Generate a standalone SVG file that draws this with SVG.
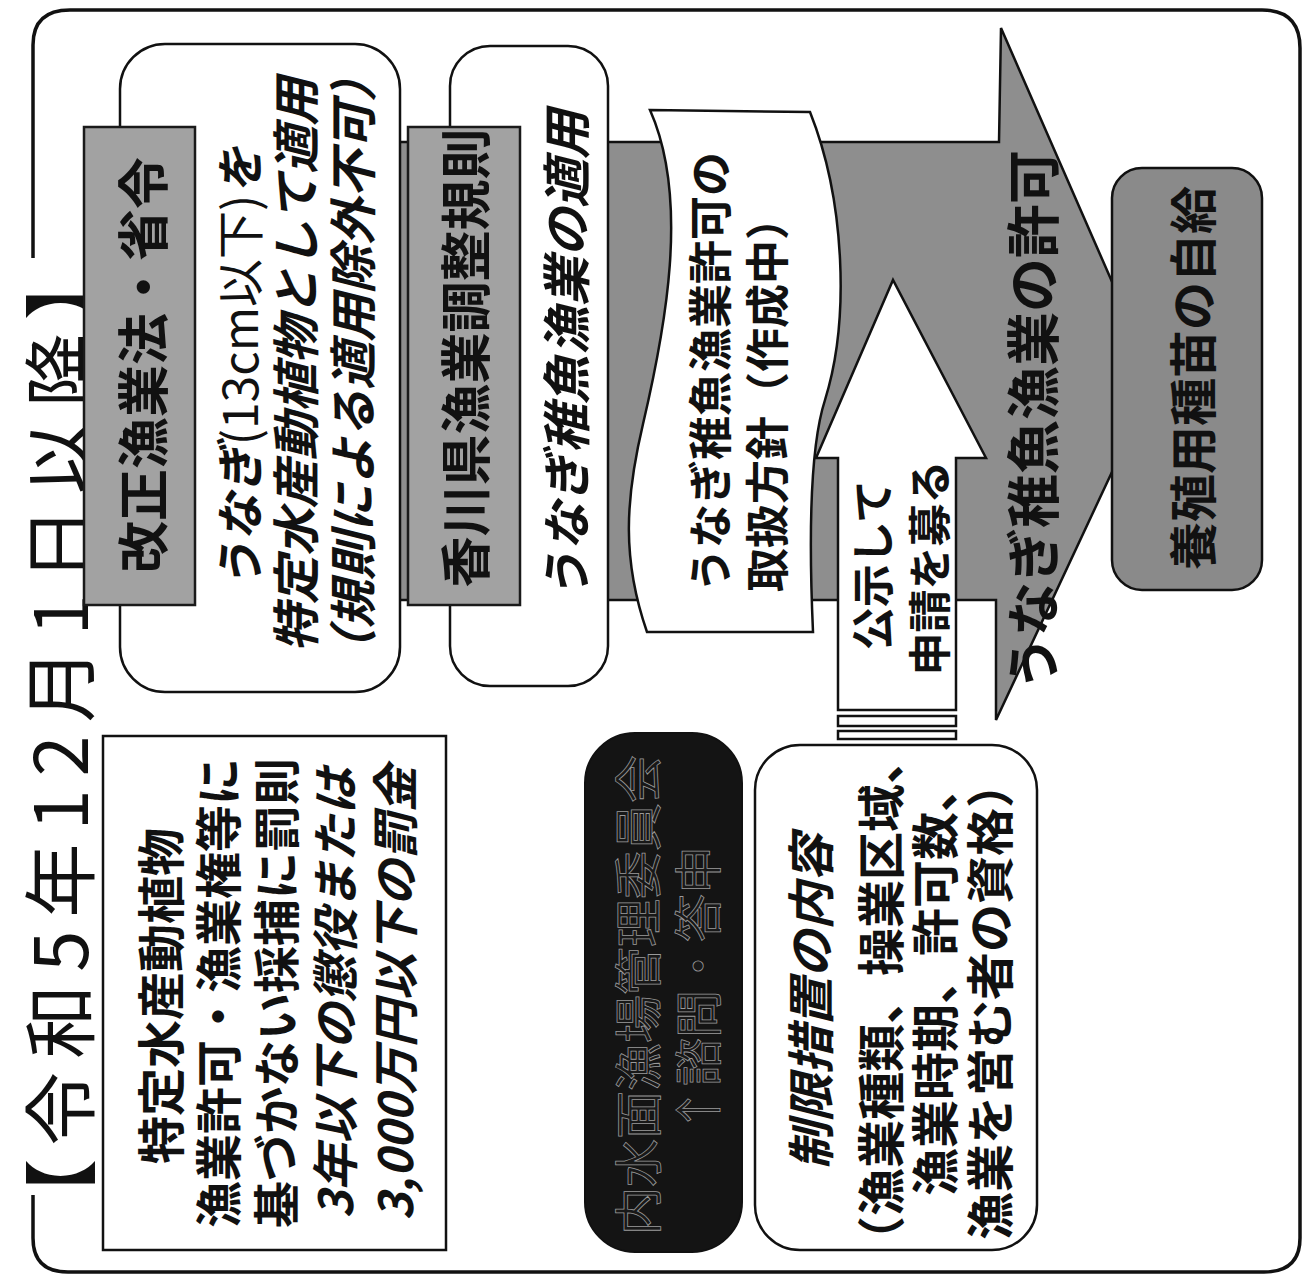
<svg xmlns="http://www.w3.org/2000/svg" width="1306" height="1280" viewBox="0 0 1306 1280">
<style>
text{font-family:'Noto Sans CJK JP','Noto Sans CJK SC',sans-serif;dominant-baseline:central;text-anchor:middle;fill:#111}
.b{font-weight:bold}
.i{font-style:italic}
.ln{stroke:#111;stroke-width:2.5;fill:#fff}
.gray{fill:#a2a2a2;stroke:#1a1a1a;stroke-width:2.5}
.outl{fill:#181818;stroke:#9a9a9a;stroke-width:0.8}
</style>
<rect width="1306" height="1280" fill="#fff"/>
<g id="frame">
<path d="M33,258 V45 Q33,10 70,10 H1262 Q1300,10 1300,48 V1238 Q1300,1272 1264,1272 H68 Q33,1272 33,1238 V1195" fill="none" stroke="#111" stroke-width="3.5"/>
<text x="55" y="733" font-size="74" letter-spacing="13" transform="rotate(-90 55 733)">【令和5年12月1日以降】</text>
</g>
<g id="connectors">
<path id="big-arrow" d="M300,142 H999 L1001,28 L1155,380 L996,720 V600 H300 Z" fill="#8e8e8e" stroke="#111" stroke-width="2.5"/>
</g>
<g id="node-law">
<rect class="ln" x="120" y="44" width="280" height="648" rx="45"/>
<rect class="gray" x="84" y="127" width="111" height="478"/>
<text class="b" x="140" y="365" font-size="52" transform="rotate(-90 140 365)">改正漁業法・省令</text>
<text class="b i" x="237" y="368" font-size="48" transform="rotate(-90 237 368)">うなぎ<tspan font-weight="normal" font-style="normal">(13cm以下)</tspan>を</text>
<text class="b i" x="293" y="365" font-size="48" transform="rotate(-90 293 365)">特定水産動植物として適用</text>
<text class="b i" x="350" y="365" font-size="48" transform="rotate(-90 350 365)">（規則による適用除外不可）</text>
</g>
<g id="node-rule">
<rect class="ln" x="450" y="46" width="158" height="640" rx="40"/>
<rect class="gray" x="408" y="127" width="112" height="478"/>
<text class="b" x="463" y="358" font-size="51" transform="rotate(-90 463 358)">香川県漁業調整規則</text>
<text class="b i" x="563" y="355" font-size="49" transform="rotate(-90 563 355)">うなぎ稚魚漁業の適用</text>
</g>
<g id="node-policy">
<path class="ln" d="M650,110 L810,112 C845,200 850,320 825,400 C812,440 808,520 813,632 L647,632 C622,560 625,500 643,424 C665,330 690,200 650,110 Z"/>
<text class="b" x="708" y="372" font-size="44" transform="rotate(-90 708 372)">うなぎ稚魚漁業許可の</text>
<text class="b" x="765" y="592" font-size="44" style="text-anchor:start" transform="rotate(-90 765 592)">取扱方針（作成中）</text>
</g>
<g id="node-notice">
<path class="ln" d="M838,710 V458 H816 L893,280 L986,458 H956 V710 Z"/>
<rect class="ln" x="838" y="716" width="118" height="10" stroke-width="2"/>
<rect class="ln" x="838" y="731" width="118" height="8" stroke-width="2"/>
<text class="b" x="870" y="565" font-size="43" transform="rotate(-90 870 565)">公示して</text>
<text class="b" x="927" y="568" font-size="43" transform="rotate(-90 927 568)">申請を募る</text>
</g>
<g id="node-permit">
<text class="b" x="1030" y="420" font-size="54" transform="rotate(-90 1030 420)">うなぎ稚魚漁業の許可</text>
</g>
<g id="node-supply">
<rect x="1112" y="168" width="150" height="422" rx="30" fill="#8a8a8a" stroke="#111" stroke-width="2.5"/>
<text class="b" x="1190" y="378" font-size="48" transform="rotate(-90 1190 378)">養殖用種苗の自給</text>
</g>
<g id="node-penalty">
<rect x="103" y="736" width="343" height="514" fill="#fff" stroke="#111" stroke-width="2.5"/>
<text class="b" x="158" y="996" font-size="48" transform="rotate(-90 158 996)">特定水産動植物</text>
<text class="b" x="215" y="993" font-size="47" transform="rotate(-90 215 993)">漁業許可・漁業権等に</text>
<text class="b" x="273" y="993" font-size="47" transform="rotate(-90 273 993)">基づかない採捕に罰則</text>
<text class="b i" x="332" y="993" font-size="47" transform="rotate(-90 332 993)">3年以下の懲役または</text>
<text class="b i" x="392" y="993" font-size="47" transform="rotate(-90 392 993)">3,000万円以下の罰金</text>
</g>
<g id="node-committee">
<rect x="585" y="733" width="157" height="519" rx="50" fill="#141414" stroke="#111" stroke-width="2"/>
<text class="outl" x="635" y="995" font-size="48" transform="rotate(-90 635 995)">内水面漁場管理委員会</text>
<text class="outl" x="695" y="990" font-size="48" transform="rotate(-90 695 990)">↑諮問・答申</text>
</g>
<g id="node-measures">
<rect class="ln" x="755" y="745" width="282" height="505" rx="45"/>
<text class="b i" x="808" y="1002" font-size="48" transform="rotate(-90 808 1002)">制限措置の内容</text>
<text class="b" x="878" y="1000" font-size="48" transform="rotate(-90 878 1000)">（漁業種類、操業区域、</text>
<text class="b" x="932" y="980" font-size="48" transform="rotate(-90 932 980)">漁業時期、許可数、</text>
<text class="b" x="987" y="1000" font-size="48" transform="rotate(-90 987 1000)">漁業を営む者の資格）</text>
</g>
</svg>
